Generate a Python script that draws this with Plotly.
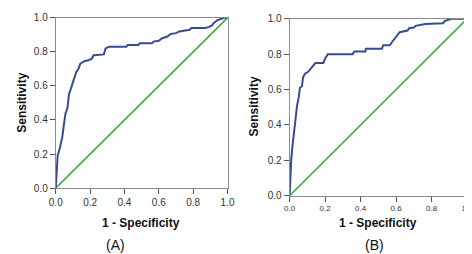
import plotly.graph_objects as go

# Panel A ROC curve (1 - specificity, sensitivity)
fpr_a = [0, 0.006, 0.011, 0.025, 0.038, 0.047, 0.057, 0.068, 0.077, 0.09, 0.104, 0.119, 0.132, 0.143,
         0.166, 0.19, 0.21, 0.22, 0.28, 0.29, 0.31, 0.41, 0.42, 0.48, 0.49, 0.56, 0.57, 0.60, 0.62, 0.65,
         0.67, 0.70, 0.72, 0.78, 0.79, 0.87, 0.89, 0.91, 0.92, 0.94, 0.98, 1.0]
tpr_a = [0, 0.11, 0.19, 0.24, 0.30, 0.37, 0.44, 0.47, 0.55, 0.59, 0.64, 0.68, 0.70, 0.73,
         0.745, 0.75, 0.76, 0.78, 0.785, 0.82, 0.83, 0.83, 0.84, 0.84, 0.85, 0.85, 0.86, 0.865, 0.88, 0.89,
         0.905, 0.91, 0.92, 0.93, 0.94, 0.94, 0.945, 0.955, 0.97, 0.985, 1.0, 1.0]

# Panel B ROC curve
fpr_b = [0, 0.004, 0.009, 0.015, 0.022, 0.027, 0.033, 0.042, 0.051, 0.058, 0.069, 0.076, 0.087, 0.104,
         0.118, 0.133, 0.145, 0.19, 0.20, 0.215, 0.355, 0.364, 0.427, 0.43, 0.52, 0.527, 0.564, 0.578,
         0.60, 0.62, 0.664, 0.673, 0.70, 0.71, 0.764, 0.864, 0.873, 0.91, 1.0]
tpr_b = [0, 0.13, 0.20, 0.27, 0.33, 0.40, 0.455, 0.51, 0.554, 0.61, 0.617, 0.67, 0.69, 0.70,
         0.717, 0.735, 0.75, 0.75, 0.775, 0.80, 0.80, 0.815, 0.815, 0.83, 0.83, 0.85, 0.85, 0.87,
         0.897, 0.924, 0.933, 0.946, 0.95, 0.96, 0.97, 0.975, 0.987, 1.0, 1.0]

ref_line = [0, 1]
ticks = [0.0, 0.2, 0.4, 0.6, 0.8, 1.0]
tick_text = ["0.0", "0.2", "0.4", "0.6", "0.8", "1.0"]
panel_labels = ["(A)", "(B)"]
x_title = "1 - Specificity"
y_title = "Sensitivity"

BLUE = "#3b4a92"
GREEN = "#3aaa3f"
FONT = "Liberation Sans, Arial, sans-serif"

fig = go.Figure()
fig.add_trace(go.Scatter(x=ref_line, y=ref_line, mode="lines", line=dict(color=GREEN, width=1.6),
                         xaxis="x", yaxis="y", showlegend=False))
fig.add_trace(go.Scatter(x=fpr_a, y=tpr_a, mode="lines", line=dict(color=BLUE, width=2),
                         xaxis="x", yaxis="y", showlegend=False))
fig.add_trace(go.Scatter(x=ref_line, y=ref_line, mode="lines", line=dict(color=GREEN, width=1.6),
                         xaxis="x2", yaxis="y2", showlegend=False))
fig.add_trace(go.Scatter(x=fpr_b, y=tpr_b, mode="lines", line=dict(color=BLUE, width=2),
                         xaxis="x2", yaxis="y2", showlegend=False))

W, H = 472, 254
def px(v): return v / W
def py(v): return (H - v) / H

ax_common = dict(range=[0, 1], tickvals=ticks, ticktext=tick_text, showgrid=False, zeroline=False,
                 showline=True, linecolor="#8c8c8c", linewidth=1, mirror=True,
                 ticks="outside", ticklen=5, tickcolor="#555", tickwidth=1)

fig.update_layout(
    width=W, height=H, margin=dict(l=0, r=0, t=0, b=0),
    paper_bgcolor="white", plot_bgcolor="white",
    font=dict(family=FONT, color="#333"),
    xaxis=dict(domain=[px(42), px(219)], anchor="y", tickfont=dict(size=10, color="#333"), **ax_common),
    yaxis=dict(domain=[py(183), py(5)], anchor="x", tickfont=dict(size=10, color="#333"), **ax_common),
    xaxis2=dict(domain=[px(283), px(466)], anchor="y2", tickfont=dict(size=8, color="#333"), **ax_common),
    yaxis2=dict(domain=[py(191), py(6)], anchor="x2", tickfont=dict(size=10, color="#333"), **ax_common),
)

annots = [
    dict(text="<b>" + x_title + "</b>", x=px(130), y=py(219), font=dict(size=12, color="#111")),
    dict(text="<b>" + y_title + "</b>", x=px(7), y=py(94), textangle=-90, font=dict(size=12, color="#111")),
    dict(text="<b>" + x_title + "</b>", x=px(374), y=py(220), font=dict(size=12, color="#111")),
    dict(text="<b>" + y_title + "</b>", x=px(246), y=py(98), textangle=-90, font=dict(size=12, color="#111")),
    dict(text=panel_labels[0], x=px(104), y=py(243), font=dict(size=14, color="#111")),
    dict(text=panel_labels[1], x=px(371), y=py(243), font=dict(size=14, color="#111")),
]
for a in annots:
    fig.add_annotation(xref="paper", yref="paper", showarrow=False, xanchor="center", yanchor="middle", **a)

fig.write_html("out.html")
